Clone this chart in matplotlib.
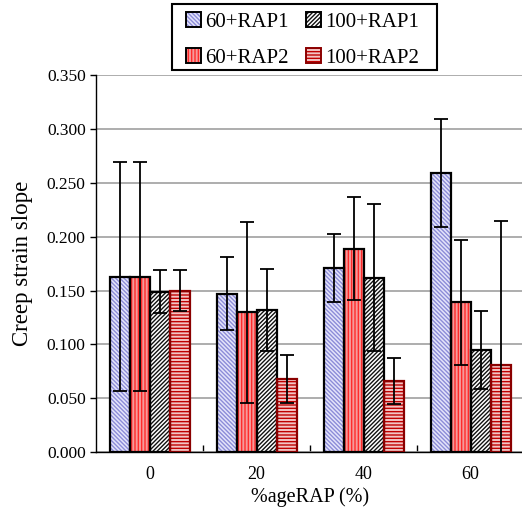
import matplotlib
matplotlib.use("Agg")
import matplotlib.pyplot as plt
import numpy as np
from matplotlib.patches import Patch, Rectangle
from matplotlib.legend_handler import HandlerTuple

plt.rcParams['font.family'] = ['Liberation Serif', 'DejaVu Serif']
plt.rcParams['hatch.linewidth'] = 1.0

categories = ["0", "20", "40", "60"]
series_names = ["60+RAP1", "60+RAP2", "100+RAP1", "100+RAP2"]

rap60_1 = [0.163, 0.147, 0.171, 0.259]
rap60_2 = [0.163, 0.130, 0.189, 0.139]
rap100_1 = [0.149, 0.132, 0.162, 0.095]
rap100_2 = [0.150, 0.068, 0.066, 0.081]

err60_1 = [0.106, 0.034, 0.032, 0.050]
err60_2 = [0.106, 0.084, 0.048, 0.058]
err100_1 = [0.020, 0.038, 0.068, 0.036]
err100_2 = [0.019, 0.022, 0.021, 0.134]

values = [rap60_1, rap60_2, rap100_1, rap100_2]
errors = [err60_1, err60_2, err100_1, err100_2]

# fill, hatch pattern, hatch colour, outline colour
styles = [
    ("#e4e4fa", "\\" * 8, "#8c8cd8", "#000000"),
    ("#f59a9a", "|" * 5, "#ff2a2a", "#000000"),
    ("#ffffff", "/" * 8, "#111111", "#000000"),
    ("#f3c4c4", "-" * 5, "#c00000", "#8b0000"),
]

W, H = 522, 519
fig = plt.figure(figsize=(W / 100, H / 100), dpi=100)
ax = fig.add_axes([0.184, 0.129, 0.820, 0.726])

x = np.arange(len(categories))
w = 0.187
offsets = [-1.5 * w, -0.5 * w, 0.5 * w, 1.5 * w]

ax.set_axisbelow(True)
ax.yaxis.grid(True, color="#a0a0a0", linewidth=1.2)

handles = []
for vals, errs, off, (fc, hatch, hc, ec) in zip(values, errors, offsets, styles):
    ax.bar(x + off, vals, w, color=fc, hatch=hatch, edgecolor=hc, linewidth=0, zorder=2)
    ax.bar(x + off, vals, w, fill=False, edgecolor=ec, linewidth=1.6, zorder=3)
    ax.errorbar(x + off, vals, yerr=errs, fmt="none", ecolor="#000000",
                elinewidth=1.3, capsize=4.7, capthick=1.3, zorder=4)
    h1 = Patch(facecolor=fc, hatch=hatch, edgecolor=hc, linewidth=0)
    h2 = Patch(fill=False, edgecolor=ec, linewidth=1.4)
    handles.append((h1, h2))

ax.set_xlim(-0.5, 3.5)
ax.set_ylim(0, 0.35)
ax.set_yticks(np.arange(0, 0.351, 0.05))
ax.set_yticklabels([f"{v:.3f}" for v in np.arange(0, 0.351, 0.05)])
ax.set_xticks(x)
ax.set_xticklabels(categories)
ax.set_xticks([0.5, 1.5, 2.5], minor=True)
ax.tick_params(axis="x", which="major", length=0, labelsize=13, pad=10)
ax.tick_params(axis="x", which="minor", length=5, direction="in", width=1.0)
ax.tick_params(axis="y", labelsize=12.5, length=4, width=1.0)

for s in ["top", "right"]:
    ax.spines[s].set_visible(False)
ax.spines["left"].set_linewidth(1.0)
ax.spines["bottom"].set_linewidth(1.0)

ax.set_xlabel("%ageRAP (%)", fontsize=14.5, labelpad=3)
ax.set_ylabel("Creep strain slope", fontsize=16.5, labelpad=10)

# legend: row 1 -> 60+RAP1, 100+RAP1 ; row 2 -> 60+RAP2, 100+RAP2
leg = fig.legend(handles, series_names,
                 handler_map={tuple: HandlerTuple(ndivide=1)},
                 ncol=2, loc="upper left", bbox_to_anchor=(186 / W, 1 - 12 / H),
                 fontsize=15, frameon=False, borderpad=0, borderaxespad=0,
                 handlelength=0.7, handleheight=0.7, handletextpad=0.2,
                 columnspacing=0.85, labelspacing=0.8)
frame = Rectangle((172 / W, 1 - 70 / H), (437 - 172) / W, 66 / H,
                  transform=fig.transFigure, fill=False, edgecolor="#000000",
                  linewidth=1.5)
fig.add_artist(frame)

fig.savefig("out.png", dpi=100)
